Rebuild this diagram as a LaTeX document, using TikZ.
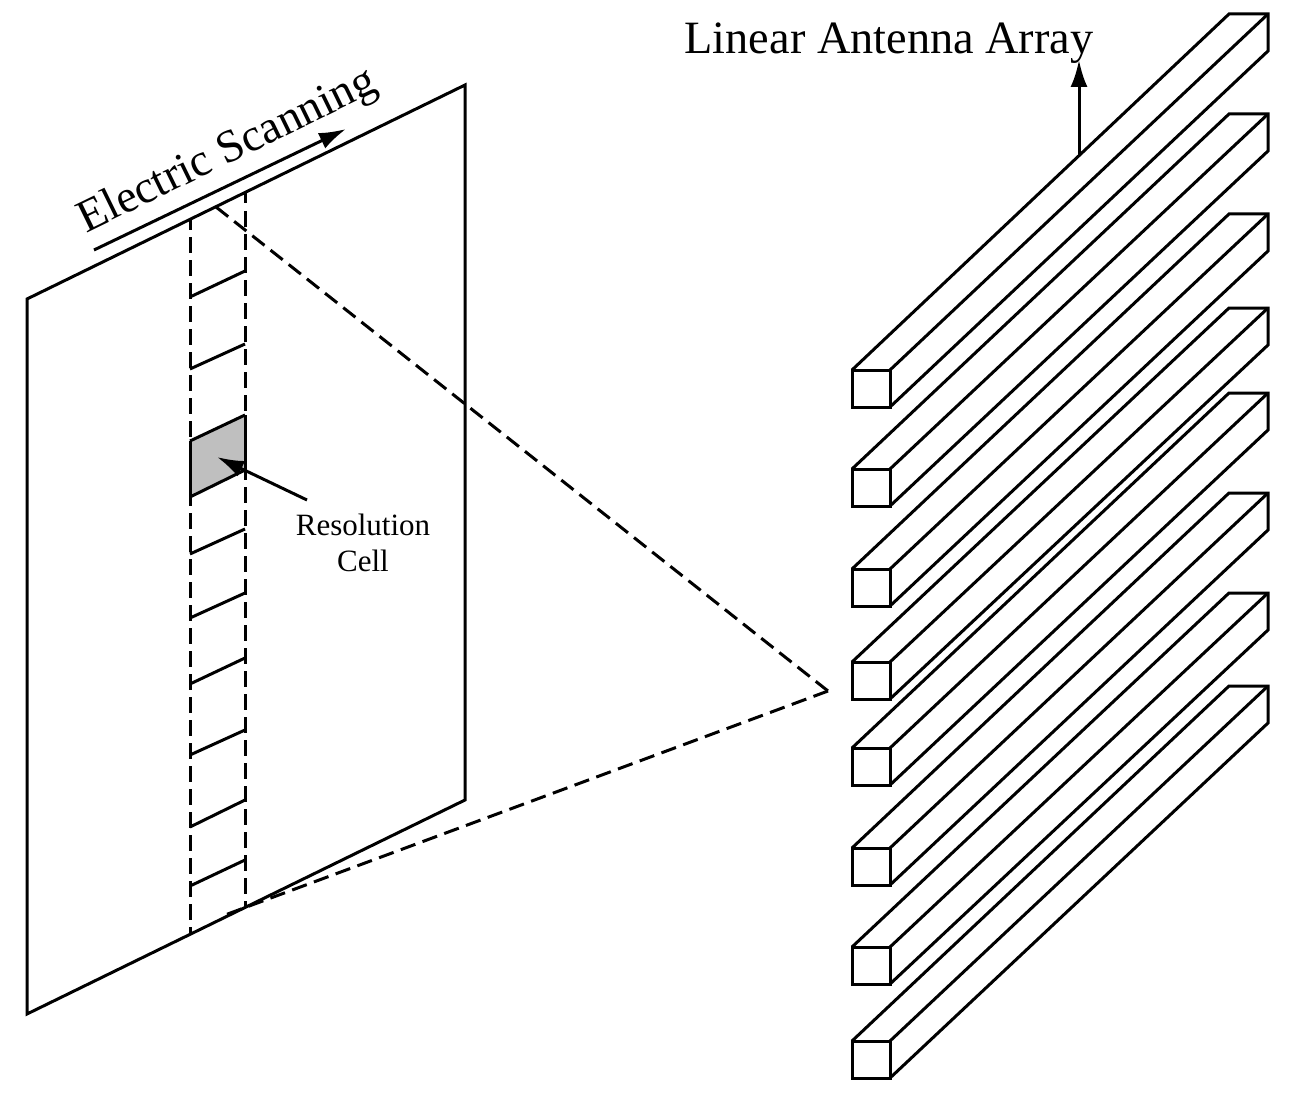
\documentclass[tikz,border=0pt]{standalone}
\usepackage{fontspec}
\setmainfont{Liberation Serif}
\usetikzlibrary{arrows.meta}
\tikzset{
  solidline/.style={draw=black,line width=3pt,line join=miter},
  dashline/.style={draw=black,line width=3pt,dash pattern=on 15.5pt off 7.5pt,dash phase=4pt},
  beamline/.style={draw=black,line width=3pt,dash pattern=on 15.5pt off 7.67pt},
  pointer/.style={draw=black,line width=3pt,-{Latex[length=27pt,width=17pt]}},
  label/.style={inner sep=0pt,text=black,align=center},
}
\begin{document}
\begin{tikzpicture}[x=1pt,y=-1pt]
\useasboundingbox (0,0) rectangle (1298,1102);
% panel
\coordinate (pa) at (27,299);
\coordinate (pb) at (465,85);
\coordinate (pc) at (465,800);
\coordinate (pd) at (27,1014);
\draw[solidline] (pa) -- (pb) -- (pc) -- (pd) -- cycle;
% resolution cell
\coordinate (ca) at (190,441);
\coordinate (cb) at (245,415);
\coordinate (cc) at (245,470);
\coordinate (cd) at (190,497);
\fill[black!25] (ca) -- (cb) -- (cc) -- (cd) -- cycle;
\draw[solidline] (cd) -- (ca) (cb) -- (cc);
% range cell dividers
\foreach \i/\ya/\yb in {1/297/271,2/369/344,3/441/415,4/497/470,5/554/529,6/618/593,7/684/658,8/755/730,9/827/800,10/886/860}{
  \coordinate (dl\i) at (190,\ya);
  \coordinate (dr\i) at (245,\yb);
  \draw[solidline] (dl\i) -- (dr\i);
}
% beam strip
\coordinate (st) at (190,218);
\coordinate (sb) at (190,935);
\coordinate (rt) at (245,192);
\coordinate (rb) at (245,908);
\draw[dashline] (st) -- (sb);
\draw[dashline] (rt) -- (rb);
% beam
\coordinate (apex) at (828,691);
\coordinate (bt) at (216,207);
\coordinate (bb) at (225,915);
\draw[beamline] (bt) -- (apex);
\draw[beamline] (apex) -- (bb);
% scanning
\coordinate (sa) at (94,250);
\coordinate (sc) at (346,129);
\draw[pointer] (sa) -- (sc);
\node[label,font=\fontsize{46pt}{46pt}\selectfont,rotate=26] (scan) at (228,152) {Electric Scanning};
% resolution label
\node[label,font=\fontsize{31pt}{36pt}\selectfont] (res) at (363,543) {Resolution\\Cell};
\coordinate (ra) at (307,500);
\coordinate (rc) at (217,457);
\draw[pointer] (ra) -- (rc);
% bars
\foreach \n/\fy/\by in {1/370/14,2/469/114,3/569/214,4/662/308,5/748/393,6/848/493,7/947/593,8/1041/686}{
  \coordinate (f\n a) at (852,\fy);
  \coordinate (f\n b) at (890,\fy);
  \coordinate (f\n c) at (890,\fy+37);
  \coordinate (f\n d) at (852,\fy+37);
  \coordinate (b\n a) at (1229,\by);
  \coordinate (b\n b) at (1268,\by);
  \coordinate (b\n c) at (1268,\by+37);
  \draw[solidline] (f\n a) -- (f\n b) -- (f\n c) -- (f\n d) -- cycle;
  \draw[solidline] (f\n a) -- (b\n a) -- (b\n b) -- (b\n c) -- (f\n c);
  \draw[solidline] (f\n b) -- (b\n b);
}
% array label
\node[label,font=\fontsize{46.3pt}{46.3pt}\selectfont] (arr) at (889,43) {Linear Antenna Array};
\coordinate (aa) at (1079,156);
\coordinate (ac) at (1079,60);
\draw[pointer] (aa) -- (ac);
\end{tikzpicture}
\end{document}
